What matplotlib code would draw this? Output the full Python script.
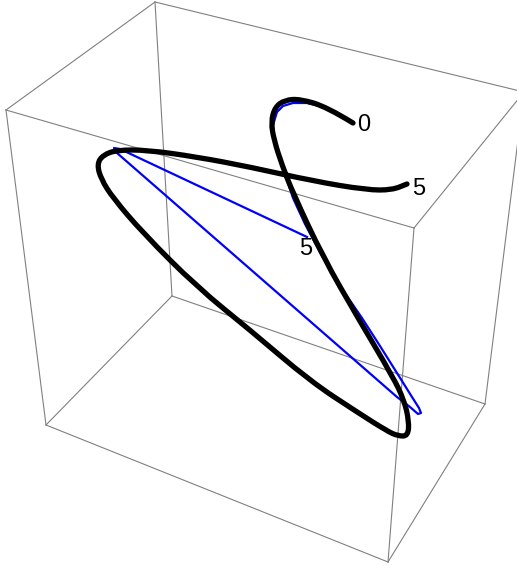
import matplotlib
matplotlib.use('Agg')
import matplotlib.pyplot as plt
from matplotlib.path import Path
from matplotlib.patches import PathPatch

W, H = 517, 566

# box corners as seen on screen, pixels
top_left = (6, 110)
top_back = (155, 2)
top_right = (524, 92)
top_front = (414, 228)
bot_left = (46, 425)
bot_back = (172, 296)
bot_right = (485, 404)
bot_front = (388, 562)
box_edges = [
    (top_left, top_back), (top_back, top_right), (top_right, top_front), (top_front, top_left),
    (bot_left, bot_back), (bot_back, bot_right), (bot_right, bot_front), (bot_front, bot_left),
    (top_left, bot_left), (top_back, bot_back), (top_front, bot_front), (top_right, bot_right),
]

# black curve, from label 0 round to label 5
black_x = [353, 327, 300, 285, 275, 271, 274, 282, 293, 323, 358,
           393, 404, 409, 408, 398, 387, 357, 310, 250, 197, 143,
           113, 101, 97, 103, 117, 147, 197, 250, 313, 367, 392, 407]
black_y = [123, 107, 99, 100, 107, 122, 140, 165, 193, 257, 318,
           377, 400, 421, 436, 436, 431, 412, 381, 330, 287, 233,
           198, 179, 164, 155, 150, 150, 157, 167, 181, 190, 190, 184]

# blue curve underneath, straight runs between the two tips
blue_x = [353, 340, 323, 307, 293, 283, 277, 273, 274, 280, 287, 293, 305, 322, 342, 362, 380, 402, 412, 419,
          421, 418, 410, 397, 117, 114, 120, 307]
blue_y = [123, 115, 107, 103, 103, 106, 112, 125, 140, 160, 180, 198, 224, 256, 289, 318, 346, 381, 397, 408,
          413, 414, 407, 397, 153, 148, 149, 237]

labels = ['0', '5', '5']
label_x = [364, 419, 306]
label_y = [125, 189, 249]


def smooth_path(xs, ys):
    # quadratic pieces through the midpoints so the line has no corners
    pts = list(zip(xs, ys))
    verts = [pts[0]]
    codes = [Path.MOVETO]
    for a, b in zip(pts[1:-1], pts[2:]):
        verts += [a, ((a[0] + b[0]) / 2, (a[1] + b[1]) / 2)]
        codes += [Path.CURVE3, Path.CURVE3]
    verts.append(pts[-1])
    codes.append(Path.LINETO)
    return Path(verts, codes)


fig = plt.figure(figsize=(W / 100, H / 100), dpi=100)
ax = fig.add_axes([0, 0, 1, 1])
ax.set_xlim(0, W)
ax.set_ylim(H, 0)
ax.axis('off')

for a, b in box_edges:
    ax.plot([a[0], b[0]], [a[1], b[1]], color='#808080', lw=0.8, zorder=1)

ax.plot(blue_x, blue_y, color='#0000ff', lw=1.6, zorder=2, solid_joinstyle='round')
ax.add_patch(PathPatch(smooth_path(black_x, black_y), fill=False, edgecolor='black', lw=3.8,
                       capstyle='round', zorder=3))

for s, x, y in zip(labels, label_x, label_y):
    ax.text(x, y, s, fontsize=17, family='Liberation Sans', ha='center', va='center', zorder=4)

fig.savefig('out.png', dpi=100)
